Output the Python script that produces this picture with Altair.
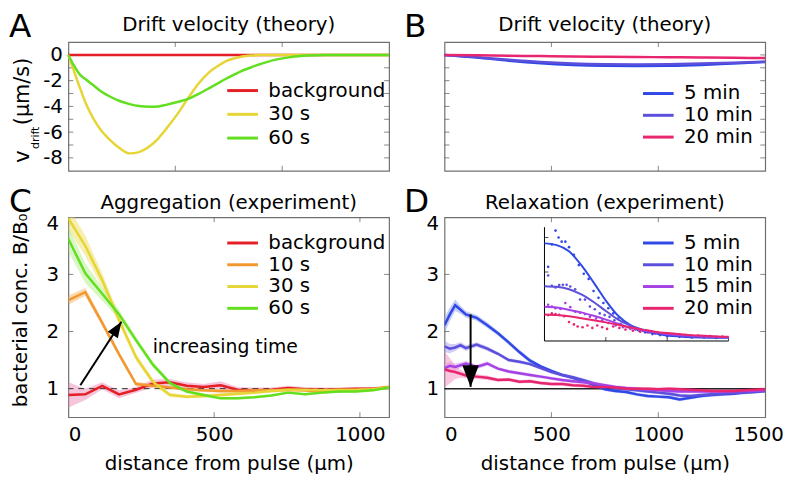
import altair as alt
import pandas as pd

FONT = "DejaVu Sans"

# ---------------- Panel A : drift velocity (theory), short times ----------------
A_x = [0, 25, 55, 85, 117, 150, 194, 240, 287, 330, 380, 420, 457, 510, 557, 610, 657,
       700, 735, 780, 812, 860, 900, 960, 1040, 1120, 1200, 1300, 1500]
A_background = [0, 0, 0, 0, 0, 0, 0, 0, 0, 0, 0, 0, 0, 0, 0, 0, 0, 0, 0, 0, 0, 0, 0, 0, 0, 0, 0, 0, 0]
A_30s = [0, -1.2, -2.6, -3.9, -4.95, -5.8, -6.6, -7.25, -7.65, -7.55, -7.1, -6.5, -5.75, -4.6, -3.43,
         -2.2, -1.37, -0.85, -0.5, -0.25, -0.12, -0.04, -0.01, 0, 0, 0, 0, 0, 0]
A_60s = [0, -0.8, -1.55, -1.95, -2.36, -2.8, -3.23, -3.58, -3.82, -3.97, -4.03, -4.0, -3.88, -3.66, -3.43,
         -3.02, -2.6, -2.2, -1.87, -1.49, -1.24, -0.93, -0.7, -0.4, -0.17, -0.05, 0, 0, 0]
A_names = ["background", "30 s", "60 s"]
A_colors = ["#e41f26", "#e6d535", "#62df1f"]
A_yticks = [-8, -7, -6, -5, -4, -3, -2, -1, 0]
AB_xticks = [500, 1000]
AB_xdomain = [0, 1500]
AB_ydomain = [-9, 1]

# ---------------- Panel B : drift velocity (theory), long times ----------------
B_x = [0, 150, 300, 450, 600, 750, 900, 1050, 1200, 1350, 1500]
B_5min = [0, -0.2, -0.45, -0.65, -0.78, -0.85, -0.87, -0.85, -0.78, -0.67, -0.55]
B_10min = [0, -0.17, -0.38, -0.55, -0.66, -0.72, -0.74, -0.72, -0.67, -0.6, -0.52]
B_20min = [0, -0.03, -0.06, -0.09, -0.12, -0.14, -0.16, -0.18, -0.2, -0.22, -0.24]
B_names = ["5 min", "10 min", "20 min"]
B_colors = ["#2f48e6", "#5b4fdc", "#e8256f"]

# ---------------- Panel C : aggregation (experiment) ----------------
C_x = [0, 58, 116, 174, 232, 290, 348, 406, 464, 522, 580, 638, 696, 754, 812, 870, 928, 986, 1044, 1100]
C_bg = [0.89, 0.90, 1.05, 0.90, 0.98, 1.09, 1.11, 1.05, 1.03, 1.06, 0.98, 0.97, 0.98, 1.01, 0.99, 0.98, 0.99, 1.00, 1.00, 1.02]
C_10s = [2.55, 2.69, 2.15, 1.60, 1.08, 1.05, 1.02, 0.99, 0.97, 0.96, 0.96, 0.97, 0.97, 0.98, 0.97, 0.94, 0.96, 0.97, 0.99, 1.03]
C_30s = [3.98, 3.50, 2.90, 2.20, 1.55, 1.12, 0.89, 0.86, 0.87, 0.89, 0.91, 0.93, 0.96, 0.98, 0.98, 0.97, 0.98, 0.98, 0.99, 1.02]
C_60s = [3.62, 3.02, 2.66, 2.30, 1.85, 1.42, 1.10, 0.95, 0.89, 0.83, 0.83, 0.85, 0.88, 0.93, 0.90, 0.93, 0.95, 0.95, 0.97, 1.02]
C_bg_err = [0.22, 0.10, 0.06, 0.07, 0.05, 0.07, 0.06, 0.06, 0.05, 0.07, 0.05, 0.05, 0.04, 0.04, 0.04, 0.04, 0.03, 0.03, 0.03, 0.03]
C_10s_err = [0.08, 0.07, 0.06, 0.05, 0.04, 0.03, 0.03, 0.03, 0.03, 0.03, 0.03, 0.03, 0.03, 0.03, 0.03, 0.03, 0.03, 0.03, 0.03, 0.03]
C_30s_err = [0.20, 0.18, 0.12, 0.08, 0.06, 0.05, 0.04, 0.03, 0.03, 0.03, 0.03, 0.03, 0.03, 0.03, 0.03, 0.03, 0.03, 0.03, 0.03, 0.03]
C_60s_err = [0.22, 0.17, 0.12, 0.08, 0.06, 0.05, 0.04, 0.03, 0.03, 0.02, 0.02, 0.02, 0.02, 0.02, 0.02, 0.02, 0.02, 0.02, 0.02, 0.02]
C_names = ["background", "10 s", "30 s", "60 s"]
C_colors = ["#e41f26", "#f2982e", "#e6d535", "#62df1f"]
C_band_colors = ["#f08cb8", "#f5b468", "#efe064", "#b4ef8a"]
C_arrow_x = [41, 182]
C_arrow_y = [1.06, 2.17]
C_text_x = [289]
C_text_y = [1.73]
C_xdomain = [0, 1100]
CD_ydomain = [0.5, 4]
CD_yticks = [1, 2, 3]
CD_xticks = [500, 1000]

# ---------------- Panel D : relaxation (experiment) ----------------
D_x = [0, 25, 50, 75, 100, 150, 200, 250, 300, 350, 400, 450, 500, 550, 600, 650, 700,
       750, 800, 850, 900, 950, 1000, 1050, 1100, 1150, 1200, 1250, 1300, 1350, 1400, 1450, 1500]
D_5min = [2.11, 2.30, 2.46, 2.38, 2.30, 2.24, 2.11, 1.97, 1.81, 1.64, 1.49, 1.39, 1.31, 1.24, 1.19, 1.13, 1.06,
          0.99, 0.96, 0.94, 0.90, 0.87, 0.86, 0.85, 0.81, 0.84, 0.87, 0.89, 0.90, 0.91, 0.93, 0.94, 0.96]
D_10min = [1.74, 1.70, 1.72, 1.76, 1.71, 1.77, 1.70, 1.61, 1.50, 1.47, 1.43, 1.36, 1.29, 1.24, 1.20, 1.15, 1.09,
           1.04, 1.01, 0.99, 0.97, 0.95, 0.93, 0.91, 0.88, 0.87, 0.89, 0.90, 0.91, 0.92, 0.93, 0.95, 0.96]
D_15min = [1.36, 1.40, 1.38, 1.41, 1.44, 1.38, 1.44, 1.35, 1.30, 1.27, 1.24, 1.21, 1.18, 1.15, 1.13, 1.11, 1.09,
           1.06, 1.03, 1.01, 1.00, 0.98, 0.97, 0.96, 0.95, 0.95, 0.95, 0.95, 0.95, 0.95, 0.96, 0.96, 0.97]
D_20min = [1.34, 1.31, 1.29, 1.26, 1.23, 1.21, 1.19, 1.15, 1.16, 1.12, 1.13, 1.10, 1.08, 1.08, 1.06, 1.05, 1.03,
           1.03, 1.02, 1.00, 1.00, 1.00, 0.99, 1.00, 0.99, 0.98, 0.97, 0.96, 0.96, 0.96, 0.97, 0.98, 0.99]
D_5min_err = [0.14, 0.12, 0.10, 0.07, 0.06, 0.05, 0.05, 0.04, 0.04, 0.04, 0.04, 0.03, 0.03, 0.03, 0.03, 0.03, 0.03,
              0.03, 0.03, 0.03, 0.03, 0.03, 0.03, 0.03, 0.03, 0.03, 0.03, 0.03, 0.03, 0.03, 0.03, 0.03, 0.03]
D_10min_err = [0.10, 0.08, 0.06, 0.05, 0.05, 0.04, 0.04, 0.03, 0.03, 0.03, 0.03, 0.03, 0.03, 0.03, 0.03, 0.03, 0.03,
               0.03, 0.03, 0.03, 0.03, 0.03, 0.03, 0.03, 0.03, 0.03, 0.03, 0.03, 0.03, 0.03, 0.03, 0.03, 0.03]
D_15min_err = [0.08, 0.07, 0.06, 0.05, 0.05, 0.04, 0.04, 0.03, 0.03, 0.03, 0.03, 0.03, 0.03, 0.03, 0.03, 0.03, 0.03,
               0.03, 0.03, 0.03, 0.03, 0.03, 0.03, 0.03, 0.03, 0.03, 0.03, 0.03, 0.03, 0.03, 0.03, 0.03, 0.03]
D_20min_err = [0.32, 0.22, 0.12, 0.07, 0.05, 0.04, 0.04, 0.03, 0.03, 0.03, 0.03, 0.03, 0.03, 0.03, 0.03, 0.03, 0.03,
               0.03, 0.03, 0.03, 0.03, 0.03, 0.03, 0.03, 0.03, 0.03, 0.03, 0.03, 0.03, 0.03, 0.03, 0.03, 0.03]
D_names = ["5 min", "10 min", "15 min", "20 min"]
D_colors = ["#2f48e6", "#5b4fdc", "#a542e6", "#e8256f"]
D_band_colors = ["#8c9cf5", "#a49cef", "#d39cf5", "#f58cbf"]
D_arrow_x = [122, 122]
D_arrow_y = [2.30, 1.03]
D_xdomain = [0, 1500]

# inset (fits + data points)
I_x = [0, 100, 200, 300, 400, 500, 600, 700, 800, 900, 1000, 1100, 1200, 1300, 1400, 1500]
I_5min_fit = [3.83, 3.78, 3.60, 3.20, 2.70, 2.17, 1.73, 1.46, 1.31, 1.22, 1.16, 1.13, 1.11, 1.10, 1.09, 1.09]
I_10min_fit = [2.59, 2.57, 2.50, 2.35, 2.13, 1.87, 1.62, 1.45, 1.33, 1.25, 1.19, 1.16, 1.13, 1.12, 1.11, 1.11]
I_15min_fit = [1.99, 1.97, 1.90, 1.83, 1.73, 1.62, 1.50, 1.39, 1.31, 1.25, 1.20, 1.17, 1.15, 1.13, 1.12, 1.11]
I_20min_fit = [1.77, 1.75, 1.72, 1.66, 1.60, 1.54, 1.47, 1.39, 1.33, 1.27, 1.23, 1.20, 1.17, 1.15, 1.13, 1.12]
I_5min_px = [30, 60, 90, 115, 140, 170, 200, 240, 280, 320, 360, 400, 440, 480, 520, 560, 600, 640, 700, 760, 820, 880, 940, 1000, 1100, 1200, 1300, 1400]
I_5min_py = [3.15, 3.80, 4.20, 4.00, 3.88, 3.88, 3.72, 3.50, 3.20, 2.95, 2.80, 2.45, 2.25, 2.10, 1.95, 1.80, 1.65, 1.55, 1.42, 1.32, 1.25, 1.20, 1.17, 1.14, 1.12, 1.10, 1.10, 1.09]
I_10min_px = [30, 60, 90, 120, 150, 180, 210, 250, 290, 330, 370, 410, 450, 490, 530, 570, 620, 680, 740, 800, 870, 940, 1010, 1100, 1200, 1300, 1400]
I_10min_py = [2.90, 2.60, 2.55, 2.62, 2.63, 2.63, 2.58, 2.50, 2.20, 2.20, 2.00, 1.92, 1.80, 1.75, 1.70, 1.60, 1.50, 1.40, 1.33, 1.30, 1.25, 1.20, 1.18, 1.15, 1.12, 1.11, 1.10]
I_15min_px = [30, 60, 90, 130, 170, 210, 250, 290, 330, 370, 420, 470, 520, 580, 640, 700, 770, 850, 930, 1010, 1100, 1200, 1300, 1400]
I_15min_py = [2.05, 2.00, 1.95, 1.93, 2.10, 1.98, 1.85, 1.82, 1.78, 1.70, 1.65, 1.60, 1.52, 1.45, 1.40, 1.35, 1.30, 1.25, 1.22, 1.19, 1.16, 1.14, 1.13, 1.12]
I_20min_px = [30, 60, 90, 120, 160, 200, 240, 270, 310, 350, 390, 430, 470, 510, 560, 610, 660, 720, 780, 840, 900, 960, 1050, 1150, 1250, 1350, 1450]
I_20min_py = [1.75, 1.80, 1.78, 1.76, 1.72, 1.55, 1.48, 1.42, 1.40, 1.45, 1.38, 1.45, 1.40, 1.35, 1.42, 1.38, 1.33, 1.30, 1.27, 1.25, 1.22, 1.20, 1.20, 1.17, 1.16, 1.14, 1.13]
I_xdomain = [0, 1500]
I_ydomain = [1, 4.3]
I_xticks = [500, 1000, 1500]
I_yticks = [2, 3, 4]

# ---------------- helpers ----------------
PW = 324
H_TOP = 130
H_BOT = 202
TICK_COLOR = "#555"


def series_df(x, ys, name, err=None):
    d = pd.DataFrame({"x": x, "y": ys})
    d["series"] = name
    if err is not None:
        d["lo"] = [a - b for a, b in zip(ys, err)]
        d["hi"] = [a + b for a, b in zip(ys, err)]
    return d


def legend(lx, ly, rowpad):
    return alt.Legend(orient="none", legendX=lx, legendY=ly, title=None,
                      symbolType="M-2,0L2,0", symbolSize=240, symbolStrokeWidth=3,
                      labelFont=FONT, labelFontSize=20, labelColor="black", labelOffset=16,
                      padding=0, rowPadding=rowpad, offset=0, symbolOffset=0)


def note(txt, x, y, size, angle=0, align="left"):
    return alt.Chart(pd.DataFrame({"t": [txt]})).mark_text(
        text=txt, font=FONT, fontSize=size, angle=angle, align=align,
        baseline="alphabetic", color="black").encode(x=alt.value(x), y=alt.value(y))


def title(txt, off):
    return alt.TitleParams(txt, font=FONT, fontSize=20, fontWeight="normal", color="black",
                           offset=off, anchor="middle")


def inner_ticks(xenc, yenc, xdom, ydom, xticks, yticks, size=5):
    """MATLAB-style inward ticks on all four sides of the box."""
    half = size / 2.0
    out = []
    for xv, off in ((xdom[0], half), (xdom[1], -half)):
        out.append(alt.Chart(pd.DataFrame({"x": [xv for _ in yticks], "y": yticks}))
                   .mark_tick(orient="horizontal", size=size, thickness=1, color=TICK_COLOR, xOffset=off)
                   .encode(x=xenc, y=yenc))
    for yv, off in ((ydom[0], -half), (ydom[1], half)):
        out.append(alt.Chart(pd.DataFrame({"x": xticks, "y": [yv for _ in xticks]}))
                   .mark_tick(orient="vertical", size=size, thickness=1, color=TICK_COLOR, yOffset=off)
                   .encode(x=xenc, y=yenc))
    return out


ARROW_HEAD = "M0,0L0.38,1L-0.38,1Z"
TOP_LABEL_SHIFT = {"condition": {"test": "datum.value == 4", "value": 6}, "value": 0}

# ---------------- Panel A ----------------
xA = alt.X("x:Q", scale=alt.Scale(domain=AB_xdomain, nice=False),
           axis=alt.Axis(values=AB_xticks, labels=False, ticks=False, title=None))
yA = alt.Y("y:Q", scale=alt.Scale(domain=AB_ydomain, nice=False),
           axis=alt.Axis(values=A_yticks, title=None, ticks=False, labelPadding=6, labelOverlap=False,
                         labelExpr="datum.value % 2 == 0 ? toString(datum.value) : ''"))
colA = alt.Color("series:N", scale=alt.Scale(domain=A_names, range=A_colors), legend=legend(166, 39, 4))
A_layers = inner_ticks(xA, yA, AB_xdomain, AB_ydomain, AB_xticks, A_yticks)
A_layers += [alt.Chart(series_df(A_x, ys, n)).mark_line(strokeWidth=2.5, interpolate="monotone")
             .encode(x=xA, y=yA, color=colA)
             for n, ys in zip(A_names, [A_background, A_30s, A_60s])]
A_layers += [note("A", -60, -5, 33), note("v", -40, 122, 21, 270),
             note("drift", -30, 108, 11, 270), note("(μm/s)", -40, 84, 21, 270)]
panelA = alt.layer(*A_layers).properties(width=PW, height=H_TOP, title=title("Drift velocity (theory)", -24))

# ---------------- Panel B ----------------
xB = alt.X("x:Q", scale=alt.Scale(domain=AB_xdomain, nice=False),
           axis=alt.Axis(values=AB_xticks, labels=False, ticks=False, title=None))
yB = alt.Y("y:Q", scale=alt.Scale(domain=AB_ydomain, nice=False),
           axis=alt.Axis(values=A_yticks, labels=False, ticks=False, title=None))
colB = alt.Color("series:N", scale=alt.Scale(domain=B_names, range=B_colors), legend=legend(206, 42, 2))
B_layers = inner_ticks(xB, yB, AB_xdomain, AB_ydomain, AB_xticks, A_yticks)
B_layers += [alt.Chart(series_df(B_x, ys, n)).mark_line(strokeWidth=2.5, interpolate="monotone")
             .encode(x=xB, y=yB, color=colB)
             for n, ys in zip(B_names, [B_5min, B_10min, B_20min])]
B_layers += [note("B", -41, -5, 33)]
panelB = alt.layer(*B_layers).properties(width=PW, height=H_TOP, title=title("Drift velocity (theory)", -24))

# ---------------- Panel C ----------------
xC = alt.X("x:Q", scale=alt.Scale(domain=C_xdomain, nice=False),
           axis=alt.Axis(values=[0, 500, 1000], format="d", title="distance from pulse (μm)", ticks=False,
                         labelPadding=8, titlePadding=9,
                         labelAlign={"condition": {"test": "datum.value == 0", "value": "left"}, "value": "center"}))
yC_scale = alt.Scale(domain=CD_ydomain, nice=False)
yC_axis = alt.Axis(values=[1, 2, 3, 4], title=None, ticks=False, labelPadding=10, labelOffset=TOP_LABEL_SHIFT)
yC = alt.Y("y:Q", scale=yC_scale, axis=yC_axis)
yC_lo = alt.Y("lo:Q", scale=yC_scale, axis=yC_axis)
colC = alt.Color("series:N", scale=alt.Scale(domain=C_names, range=C_colors), legend=legend(166, 16, 2))
C_data = [series_df(C_x, ys, n, e) for n, ys, e in
          zip(C_names, [C_bg, C_10s, C_30s, C_60s], [C_bg_err, C_10s_err, C_30s_err, C_60s_err])]
C_layers = [alt.Chart(d).mark_area(opacity=0.5, clip=True, fill=bc).encode(x=xC, y=yC_lo, y2="hi")
            for d, bc in zip(C_data, C_band_colors)]
C_layers.append(alt.Chart(pd.DataFrame({"y": [1]})).mark_rule(color="#333", strokeWidth=1, strokeDash=[6, 5])
                .encode(y=yC))
C_layers += inner_ticks(xC, yC, C_xdomain, CD_ydomain, CD_xticks, CD_yticks)
C_layers += [alt.Chart(d).mark_line(strokeWidth=2.5, clip=True).encode(x=xC, y=yC, color=colC) for d in C_data]
C_arrow = pd.DataFrame({"x": [C_arrow_x[0]], "y": [C_arrow_y[0]], "x2": [C_arrow_x[1]], "y2": [C_arrow_y[1]]})
C_layers.append(alt.Chart(C_arrow).mark_rule(color="black", strokeWidth=2).encode(x=xC, y=yC, x2="x2", y2="y2"))
C_layers.append(alt.Chart(pd.DataFrame({"x": [C_arrow_x[1]], "y": [C_arrow_y[1]]}))
                .mark_point(shape=ARROW_HEAD, size=1024, filled=True, color="black", opacity=1, angle=33)
                .encode(x=xC, y=yC))
C_layers.append(alt.Chart(pd.DataFrame({"x": C_text_x, "y": C_text_y, "t": ["increasing time"]}))
                .mark_text(font=FONT, fontSize=19, align="left", baseline="middle", color="black")
                .encode(x=xC, y=yC, text="t"))
C_layers += [note("C", -60, -5, 33), note("bacterial conc. B/B\u2080", -42, 192, 20, 270)]
panelC = alt.layer(*C_layers).properties(width=PW, height=H_BOT, title=title("Aggregation (experiment)", -27))

# ---------------- Panel D ----------------
xD = alt.X("x:Q", scale=alt.Scale(domain=D_xdomain, nice=False),
           axis=alt.Axis(values=[0, 500, 1000, 1500], format="d", title="distance from pulse (μm)", ticks=False,
                         labelPadding=8, titlePadding=9,
                         labelAlign={"condition": {"test": "datum.value == 0", "value": "left"}, "value": "center"},
                         labelOffset={"condition": {"test": "datum.value == 1500", "value": -7}, "value": 0}))
yD_scale = alt.Scale(domain=CD_ydomain, nice=False)
yD_axis = alt.Axis(values=[1, 2, 3, 4], title=None, ticks=False, labelPadding=6, labelOffset=TOP_LABEL_SHIFT)
yD = alt.Y("y:Q", scale=yD_scale, axis=yD_axis)
yD_lo = alt.Y("lo:Q", scale=yD_scale, axis=yD_axis)
colD = alt.Color("series:N", scale=alt.Scale(domain=D_names, range=D_colors), legend=legend(206, 16, 2))
D_data = [series_df(D_x, ys, n, e) for n, ys, e in
          zip(D_names, [D_5min, D_10min, D_15min, D_20min],
              [D_5min_err, D_10min_err, D_15min_err, D_20min_err])]
D_layers = [alt.Chart(d).mark_area(opacity=0.5, clip=True, fill=bc).encode(x=xD, y=yD_lo, y2="hi")
            for d, bc in zip(D_data, D_band_colors)]
D_layers += inner_ticks(xD, yD, D_xdomain, CD_ydomain, CD_xticks, CD_yticks)
D_layers.append(alt.Chart(pd.DataFrame({"y": [1]})).mark_rule(color="#222", strokeWidth=1.5).encode(y=yD))
D_layers += [alt.Chart(d).mark_line(strokeWidth=2.5, clip=True).encode(x=xD, y=yD, color=colD) for d in D_data]
D_arrow = pd.DataFrame({"x": [D_arrow_x[0]], "y": [D_arrow_y[0]], "y2": [D_arrow_y[1]]})
D_layers.append(alt.Chart(D_arrow).mark_rule(color="black", strokeWidth=2).encode(x=xD, y=yD, y2="y2"))
D_layers.append(alt.Chart(pd.DataFrame({"x": [D_arrow_x[1]], "y": [D_arrow_y[1]]}))
                .mark_point(shape=ARROW_HEAD, size=1936, filled=True, color="black", opacity=1, angle=180)
                .encode(x=xD, y=yD))
D_layers += [note("D", -41, -5, 33)]
D_main = alt.layer(*D_layers)

xI = alt.X("x:Q", scale=alt.Scale(domain=I_xdomain, range=[101, 287], nice=False, zero=False), axis=None)
yI = alt.Y("y:Q", scale=alt.Scale(domain=I_ydomain, range=[125, 10], nice=False, zero=False), axis=None)
colI = alt.Color("series:N", scale=alt.Scale(domain=D_names, range=D_colors), legend=None)
I_layers = [alt.Chart(pd.DataFrame({"x": [I_xdomain[0]], "y": [I_ydomain[0]], "y2": [I_ydomain[1]]}))
            .mark_rule(color="black", strokeWidth=1).encode(x=xI, y=yI, y2="y2"),
            alt.Chart(pd.DataFrame({"x": [I_xdomain[0]], "x2": [I_xdomain[1]], "y": [I_ydomain[0]]}))
            .mark_rule(color="black", strokeWidth=1).encode(x=xI, x2="x2", y=yI),
            alt.Chart(pd.DataFrame({"x": I_xticks, "y": [I_ydomain[0] for _ in I_xticks]}))
            .mark_tick(orient="vertical", size=4, thickness=1, color="black", yOffset=-2).encode(x=xI, y=yI),
            alt.Chart(pd.DataFrame({"x": [I_xdomain[0] for _ in I_yticks], "y": I_yticks}))
            .mark_tick(orient="horizontal", size=4, thickness=1, color="black", xOffset=2).encode(x=xI, y=yI)]
for n, px, py in zip(D_names, [I_5min_px, I_10min_px, I_15min_px, I_20min_px],
                     [I_5min_py, I_10min_py, I_15min_py, I_20min_py]):
    I_layers.append(alt.Chart(series_df(px, py, n)).mark_circle(size=7, opacity=1).encode(x=xI, y=yI, color=colI))
for n, ys in zip(D_names, [I_5min_fit, I_10min_fit, I_15min_fit, I_20min_fit]):
    I_layers.append(alt.Chart(series_df(I_x, ys, n)).mark_line(strokeWidth=2, interpolate="monotone")
                    .encode(x=xI, y=yI, color=colI))
D_inset = alt.layer(*I_layers)

panelD = (alt.layer(D_main, D_inset)
          .resolve_scale(x="independent", y="independent", color="independent")
          .properties(width=PW, height=H_BOT, title=title("Relaxation (experiment)", -27)))

chart = (alt.concat(panelA, panelB, panelC, panelD, columns=2, spacing={"row": 47, "column": 56},
                    bounds="flush", align="each")
         .resolve_scale(color="independent")
         .properties(padding={"left": 0, "top": 0, "right": 0, "bottom": 0})
         .configure_view(stroke="#707070", strokeWidth=1.2)
         .configure_axis(labelFont=FONT, labelFontSize=20, titleFont=FONT, titleFontSize=20,
                         titleFontWeight="normal", labelColor="black", titleColor="black",
                         domain=False, grid=False))

chart.save("out.html", embed_options={"renderer": "svg", "actions": False})
